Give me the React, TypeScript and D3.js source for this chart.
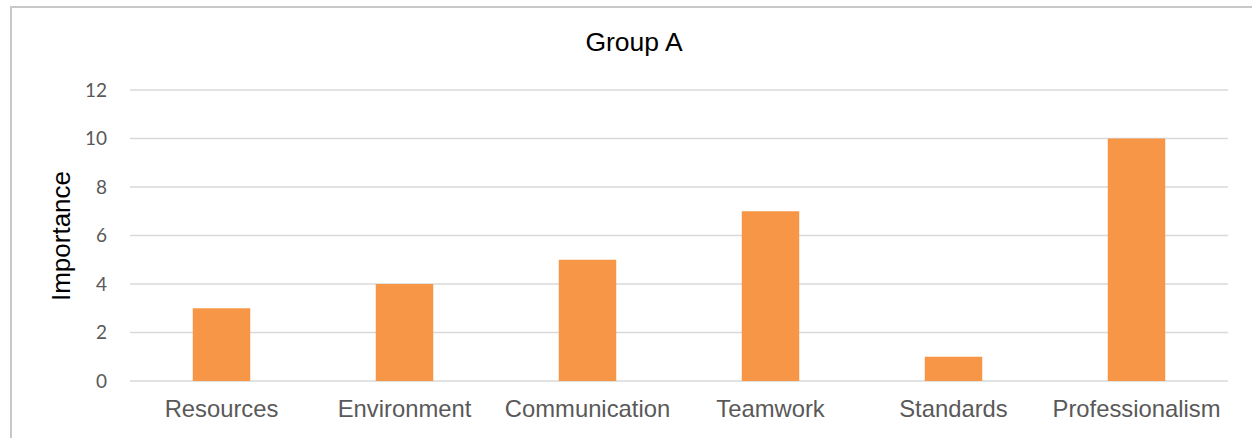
import React from "react";
import * as d3 from "d3";

const categories = ["Resources", "Environment", "Communication", "Teamwork", "Standards", "Professionalism"];
const values = [3, 4, 5, 7, 1, 10];
const yTicks = [0, 2, 4, 6, 8, 10, 12];
const title = "Group A";
const yLabel = "Importance";

const W = 1252;
const H = 438;
const plot = { left: 130, right: 1228, top: 90, bottom: 381 };

export default function App() {
  const x = d3.scaleBand<string>().domain(categories).range([plot.left, plot.right]).padding(0);
  const y = d3.scaleLinear().domain([0, 12]).range([plot.bottom, plot.top]);
  const barW = x.bandwidth() * 0.314;

  return (
    <svg width={W} height={H} style={{ position: "absolute", left: 0, top: 0 }}>
      <rect x={0} y={0} width={W} height={H} fill="#ffffff" />
      <rect x={11} y={7} width={W + 20} height={H + 20} fill="none" stroke="#c8c8c8" strokeWidth={2} />
      <text x={634} y={51} textAnchor="middle" fontFamily="'Liberation Sans', Arial, sans-serif" fontSize={26.5} fill="#000">
        {title}
      </text>
      {yTicks.map((t) => (
        <g key={t}>
          <line x1={plot.left} x2={plot.right} y1={y(t)} y2={y(t)} stroke="#d9d9d9" strokeWidth={1.5} />
          <text x={107} y={y(t) + 6.5} textAnchor="end" fontFamily="Lato, 'Open Sans', sans-serif" fontSize={19} fill="#595959">
            {t}
          </text>
        </g>
      ))}
      {categories.map((c, i) => {
        const cx = (x(c) as number) + x.bandwidth() / 2;
        return (
          <g key={c}>
            <rect x={cx - barW / 2} y={y(values[i])} width={barW} height={y(0) - y(values[i])} fill="#f79646" />
            <text x={cx} y={417} textAnchor="middle" fontFamily="'Liberation Sans', Arial, sans-serif" fontSize={23.8} fill="#595959">
              {c}
            </text>
          </g>
        );
      })}
      <text
        transform={`translate(70, 236) rotate(-90)`}
        textAnchor="middle"
        fontFamily="'Liberation Sans', Arial, sans-serif"
        fontSize={26}
        fill="#000"
      >
        {yLabel}
      </text>
    </svg>
  );
}
